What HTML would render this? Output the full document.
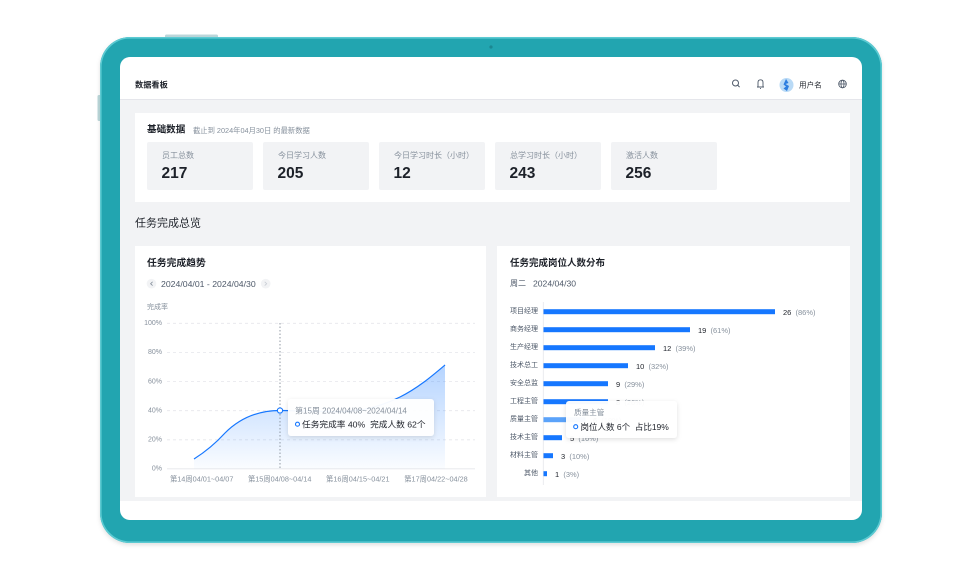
<!DOCTYPE html>
<html><head><meta charset="utf-8"><style>
html,body{margin:0;padding:0;background:#fff;}
svg{display:block;}
text{font-family:"Liberation Sans","Noto Sans CJK SC",sans-serif;}
</style></head><body>
<svg width="980" height="578" viewBox="0 0 980 578" xmlns="http://www.w3.org/2000/svg">
<defs>
<linearGradient id="ag" x1="0" y1="365" x2="0" y2="469" gradientUnits="userSpaceOnUse">
<stop offset="0" stop-color="#1677ff" stop-opacity="0.32"/>
<stop offset="1" stop-color="#1677ff" stop-opacity="0.02"/>
</linearGradient>
<filter id="sh" x="-20%" y="-30%" width="140%" height="160%">
<feDropShadow dx="0" dy="1.5" stdDeviation="2.5" flood-color="#000" flood-opacity="0.13"/>
</filter>
<filter id="fs" x="-5%" y="-5%" width="110%" height="115%">
<feDropShadow dx="0" dy="2" stdDeviation="2" flood-color="#000" flood-opacity="0.12"/>
</filter>
</defs>
<rect width="980" height="578" fill="#fff"/>
<!-- side buttons -->
<rect x="165" y="34.5" width="53" height="4" rx="1.5" fill="#bcd8db"/>
<rect x="97.5" y="95" width="4" height="26" rx="1.5" fill="#bcd8db"/>
<!-- frame -->
<rect x="100" y="37" width="782" height="506" rx="30" fill="#23a5b0" filter="url(#fs)"/>
<rect x="100.8" y="37.8" width="780.4" height="504.4" rx="29.5" fill="none" stroke="#5ccad2" stroke-width="1.6"/>
<circle cx="491" cy="47" r="1.6" fill="#1b8791"/>
<!-- screen -->
<rect x="120" y="57" width="742" height="463" rx="10" fill="#fff"/>
<rect x="120" y="100" width="742" height="401" fill="#f2f3f5"/>
<line x1="120" y1="99.5" x2="862" y2="99.5" stroke="#e5e6eb" stroke-width="1"/>

<!-- header -->
<text x="135" y="85" font-size="8.2" font-weight="bold" fill="#1d2129" dominant-baseline="central">数据看板</text>
<!-- search -->
<circle cx="735.5" cy="83" r="3" fill="none" stroke="#4e5969" stroke-width="1"/>
<line x1="737.7" y1="85.2" x2="739.6" y2="87.1" stroke="#4e5969" stroke-width="1"/>
<!-- bell -->
<path d="M758 87 L758 82.5 Q758 79.8 760.5 79.8 Q763 79.8 763 82.5 L763 87 Z M757 87 L764 87" fill="none" stroke="#4e5969" stroke-width="0.9"/>
<line x1="760" y1="88.6" x2="761" y2="88.6" stroke="#4e5969" stroke-width="0.9"/>
<!-- avatar -->
<circle cx="786.5" cy="85" r="7" fill="#b9daf6"/>
<path d="M786 79 L788.5 83 L785.5 84 L789 86 L787 91 L783.5 88.5 L786 86.5 L783.5 84.5 Z" fill="#2b7de0"/>
<text x="799" y="85" font-size="7.6" fill="#1d2129" dominant-baseline="central">用户名</text>
<!-- globe -->
<circle cx="842.5" cy="84" r="3.8" fill="none" stroke="#4e5969" stroke-width="0.9"/>
<ellipse cx="842.5" cy="84" rx="1.5" ry="3.8" fill="none" stroke="#4e5969" stroke-width="0.8"/>
<line x1="838.7" y1="84" x2="846.3" y2="84" stroke="#4e5969" stroke-width="0.8"/>

<!-- basic data card -->
<rect x="135" y="113" width="715" height="89" fill="#fff"/>
<text x="147" y="130" font-size="9.6" font-weight="bold" fill="#1d2129" dominant-baseline="central">基础数据</text>
<text x="193" y="130.5" font-size="7.3" fill="#86909c" dominant-baseline="central">截止到 2024年04月30日 的最新数据</text>
<g>
<rect x="147" y="142" width="106" height="48" rx="2" fill="#f2f3f5"/>
<rect x="263" y="142" width="106" height="48" rx="2" fill="#f2f3f5"/>
<rect x="379" y="142" width="106" height="48" rx="2" fill="#f2f3f5"/>
<rect x="495" y="142" width="106" height="48" rx="2" fill="#f2f3f5"/>
<rect x="611" y="142" width="106" height="48" rx="2" fill="#f2f3f5"/>
</g>
<g font-size="8" fill="#86909c">
<text x="162" y="155.5" dominant-baseline="central">员工总数</text>
<text x="278" y="155.5" dominant-baseline="central">今日学习人数</text>
<text x="394" y="155.5" dominant-baseline="central">今日学习时长（小时）</text>
<text x="510" y="155.5" dominant-baseline="central">总学习时长（小时）</text>
<text x="626" y="155.5" dominant-baseline="central">激活人数</text>
</g>
<g font-size="15.5" font-weight="bold" fill="#1d2129">
<text x="161.5" y="173.5" dominant-baseline="central">217</text>
<text x="277.5" y="173.5" dominant-baseline="central">205</text>
<text x="393.5" y="173.5" dominant-baseline="central">12</text>
<text x="509.5" y="173.5" dominant-baseline="central">243</text>
<text x="625.5" y="173.5" dominant-baseline="central">256</text>
</g>

<text x="135" y="223.5" font-size="11" fill="#1d2129" dominant-baseline="central">任务完成总览</text>

<!-- left chart card -->
<rect x="135" y="246" width="351" height="251" fill="#fff"/>
<text x="147" y="263.3" font-size="9.8" font-weight="bold" fill="#1d2129" dominant-baseline="central">任务完成趋势</text>
<circle cx="151.5" cy="283.7" r="4.8" fill="#f2f3f5"/>
<path d="M152.6 281.8 L150.6 283.7 L152.6 285.6" fill="none" stroke="#86909c" stroke-width="0.8"/>
<text x="161" y="283.9" font-size="8.7" fill="#4e5969" dominant-baseline="central">2024/04/01 - 2024/04/30</text>
<circle cx="265.7" cy="283.7" r="4.8" fill="#f2f3f5"/>
<path d="M264.7 281.8 L266.7 283.7 L264.7 285.6" fill="none" stroke="#c9cdd4" stroke-width="0.8"/>
<text x="147" y="307.7" font-size="7" fill="#86909c" dominant-baseline="central">完成率</text>
<g stroke="#e5e6eb" stroke-width="0.8" stroke-dasharray="3 3">
<line x1="167" y1="323.3" x2="475" y2="323.3"/>
<line x1="167" y1="352.5" x2="475" y2="352.5"/>
<line x1="167" y1="381.6" x2="475" y2="381.6"/>
<line x1="167" y1="410.7" x2="475" y2="410.7"/>
<line x1="167" y1="439.8" x2="475" y2="439.8"/>
</g>
<line x1="167" y1="468.8" x2="475" y2="468.8" stroke="#e5e6eb" stroke-width="0.8"/>
<g font-size="7" fill="#86909c" text-anchor="end">
<text x="162" y="323.5" dominant-baseline="central">100%</text>
<text x="162" y="352.7" dominant-baseline="central">80%</text>
<text x="162" y="381.8" dominant-baseline="central">60%</text>
<text x="162" y="410.9" dominant-baseline="central">40%</text>
<text x="162" y="440" dominant-baseline="central">20%</text>
<text x="162" y="469" dominant-baseline="central">0%</text>
</g>
<g font-size="7.3" fill="#86909c" text-anchor="middle">
<text x="201.7" y="478.8" dominant-baseline="central">第14周04/01~04/07</text>
<text x="279.7" y="478.8" dominant-baseline="central">第15周04/08~04/14</text>
<text x="357.8" y="478.8" dominant-baseline="central">第16周04/15~04/21</text>
<text x="436" y="478.8" dominant-baseline="central">第17周04/22~04/28</text>
</g>
<path d="M194,459 C205,452 215,444 225,433 C240,418 258,410.5 280,410.5 C310,410.5 340,413 360,410 C378,407 390,402 400,397 C418,388 432,376 445,365 L445,468.8 L194,468.8 Z" fill="url(#ag)"/>
<path d="M194,459 C205,452 215,444 225,433 C240,418 258,410.5 280,410.5 C310,410.5 340,413 360,410 C378,407 390,402 400,397 C418,388 432,376 445,365" fill="none" stroke="#1677ff" stroke-width="1.2"/>
<line x1="280" y1="323" x2="280" y2="469" stroke="#86909c" stroke-width="0.9" stroke-dasharray="1.5 2"/>
<circle cx="280" cy="410.5" r="2.6" fill="#fff" stroke="#1677ff" stroke-width="1.1"/>
<rect x="288" y="399" width="146" height="37" rx="3" fill="#fff" fill-opacity="0.96" filter="url(#sh)"/>
<text x="295" y="411.2" font-size="8" fill="#86909c" dominant-baseline="central">第15周 2024/04/08~2024/04/14</text>
<circle cx="297.5" cy="424.2" r="2" fill="#fff" stroke="#1677ff" stroke-width="1.1"/>
<text x="302" y="424.4" font-size="8.7" fill="#1d2129" dominant-baseline="central">任务完成率 40%&#160;&#160;完成人数 62个</text>

<!-- right chart card -->
<rect x="497" y="246" width="353" height="251" fill="#fff"/>
<text x="510" y="263.3" font-size="9.5" font-weight="bold" fill="#1d2129" dominant-baseline="central">任务完成岗位人数分布</text>
<text x="510" y="283.7" font-size="8" fill="#4e5969" dominant-baseline="central">周二</text>
<text x="533" y="283.7" font-size="8.6" fill="#4e5969" dominant-baseline="central">2024/04/30</text>
<line x1="543.3" y1="302" x2="543.3" y2="485" stroke="#e5e6eb" stroke-width="0.8"/>
<g font-size="7" fill="#4e5969" text-anchor="end">
<text x="538" y="311.7" dominant-baseline="central">项目经理</text>
<text x="538" y="329.7" dominant-baseline="central">商务经理</text>
<text x="538" y="347.7" dominant-baseline="central">生产经理</text>
<text x="538" y="365.7" dominant-baseline="central">技术总工</text>
<text x="538" y="383.7" dominant-baseline="central">安全总监</text>
<text x="538" y="401.7" dominant-baseline="central">工程主管</text>
<text x="538" y="419.7" dominant-baseline="central">质量主管</text>
<text x="538" y="437.7" dominant-baseline="central">技术主管</text>
<text x="538" y="455.7" dominant-baseline="central">材料主管</text>
<text x="538" y="473.7" dominant-baseline="central">其他</text>
</g>
<g fill="#1677ff">
<rect x="543.5" y="309.2" width="231.5" height="5"/>
<rect x="543.5" y="327.2" width="146.5" height="5"/>
<rect x="543.5" y="345.2" width="111.5" height="5"/>
<rect x="543.5" y="363.2" width="84.5" height="5"/>
<rect x="543.5" y="381.2" width="64.5" height="5"/>
<rect x="543.5" y="399.2" width="64.5" height="5"/>
<rect x="543.5" y="417.2" width="42" height="5" fill="#5ba3fa"/>
<rect x="543.5" y="435.2" width="18.5" height="5"/>
<rect x="543.5" y="453.2" width="9.5" height="5"/>
<rect x="543.5" y="471.2" width="3.5" height="5"/>
</g>
<g font-size="7.5" dominant-baseline="central">
<text x="783" y="311.9" dominant-baseline="central"><tspan fill="#1d2129">26</tspan><tspan fill="#86909c">&#160;&#160;(86%)</tspan></text>
<text x="698" y="329.9" dominant-baseline="central"><tspan fill="#1d2129">19</tspan><tspan fill="#86909c">&#160;&#160;(61%)</tspan></text>
<text x="663" y="347.9" dominant-baseline="central"><tspan fill="#1d2129">12</tspan><tspan fill="#86909c">&#160;&#160;(39%)</tspan></text>
<text x="636" y="365.9" dominant-baseline="central"><tspan fill="#1d2129">10</tspan><tspan fill="#86909c">&#160;&#160;(32%)</tspan></text>
<text x="616" y="383.9" dominant-baseline="central"><tspan fill="#1d2129">9</tspan><tspan fill="#86909c">&#160;&#160;(29%)</tspan></text>
<text x="616" y="401.9" dominant-baseline="central"><tspan fill="#1d2129">8</tspan><tspan fill="#86909c">&#160;&#160;(26%)</tspan></text>
<text x="593" y="419.9" dominant-baseline="central"><tspan fill="#1d2129">6</tspan><tspan fill="#86909c">&#160;&#160;(19%)</tspan></text>
<text x="570" y="437.9" dominant-baseline="central"><tspan fill="#1d2129">5</tspan><tspan fill="#86909c">&#160;&#160;(16%)</tspan></text>
<text x="561" y="455.9" dominant-baseline="central"><tspan fill="#1d2129">3</tspan><tspan fill="#86909c">&#160;&#160;(10%)</tspan></text>
<text x="555" y="473.9" dominant-baseline="central"><tspan fill="#1d2129">1</tspan><tspan fill="#86909c">&#160;&#160;(3%)</tspan></text>
</g>
<rect x="566" y="401" width="111" height="37" rx="3" fill="#fff" fill-opacity="0.96" filter="url(#sh)"/>
<text x="574" y="412.7" font-size="7.6" fill="#86909c" dominant-baseline="central">质量主管</text>
<circle cx="575.7" cy="426.7" r="2" fill="#fff" stroke="#1677ff" stroke-width="1.1"/>
<text x="580.5" y="426.9" font-size="8.5" fill="#1d2129" dominant-baseline="central">岗位人数 6个&#160;&#160;占比19%</text>
</svg>
</body></html>
